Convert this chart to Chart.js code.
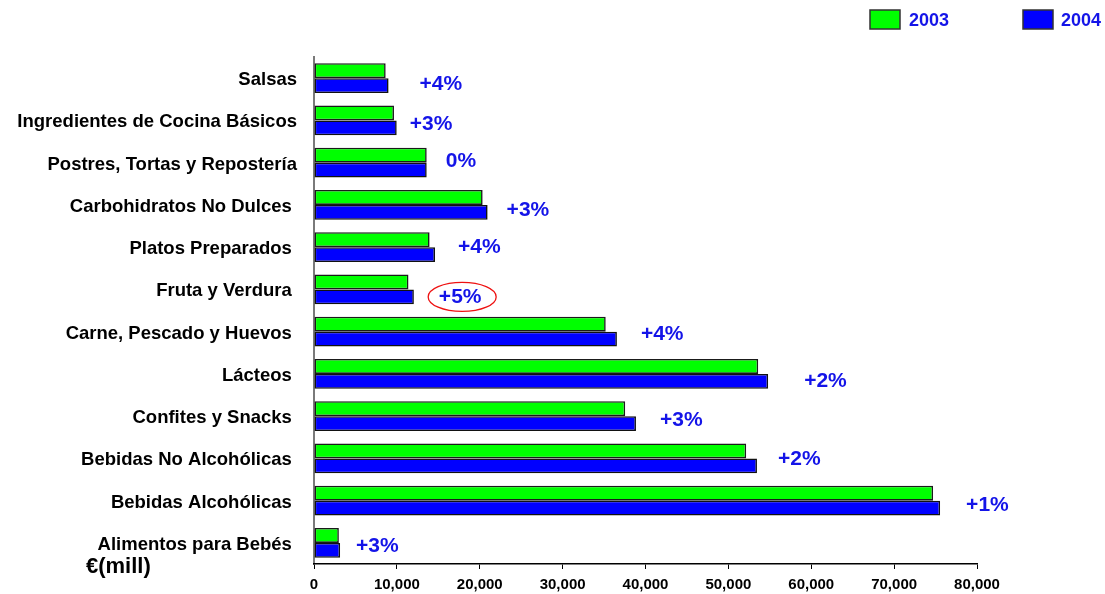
<!DOCTYPE html>
<html>
<head>
<meta charset="utf-8">
<script src="https://cdn.jsdelivr.net/npm/chart.js@4/dist/chart.umd.min.js"></script>
<style>
html,body{margin:0;padding:0;background:#fff;}
canvas{display:block;}
</style>
</head>
<body>
<canvas id="c" width="1105" height="594" style="width:1105px;height:594px"></canvas>
<script>
// ---- data ----
const categories = [
  "Salsas",
  "Ingredientes de Cocina Básicos",
  "Postres, Tortas y Repostería",
  "Carbohidratos No Dulces ",
  "Platos Preparados ",
  "Fruta y Verdura ",
  "Carne, Pescado y Huevos ",
  "Lácteos ",
  "Confites y Snacks ",
  "Bebidas No Alcohólicas ",
  "Bebidas Alcohólicas ",
  "Alimentos para Bebés "
];
const values2003 = [8650, 9650, 13600, 20350, 13950, 11400, 35200, 53600, 37550, 52150, 74700, 3000];
const values2004 = [9000, 9980, 13600, 20950, 14600, 12050, 36550, 54800, 38850, 53450, 75550, 3150];
const growthLabels = ["+4%", "+3%", "0%", "+3%", "+4%", "+5%", "+4%", "+2%", "+3%", "+2%", "+1%", "+3%"];
const highlighted = [5];
const xTicks = [0, 10000, 20000, 30000, 40000, 50000, 60000, 70000, 80000];
const seriesNames = ["2003", "2004"];
const unitLabel = "€(mill)";

// ---- layout for annotations (pixels) ----
const labelGapPx = [31, 13, 19, 19, 23, 25, 24, 36, 24, 21, 26, 16];
const labelDyPx  = [6.5, 3.5, -1, 5, 0.5, 7.5, 3, 7, 4, 0.6, 4.5, 3];

const FONT = "'Liberation Sans', Arial, Helvetica, sans-serif";
Chart.defaults.font.family = FONT;

const annotations = {
  id: 'annotations',
  afterDraw(chart) {
    const ctx = chart.ctx;
    const meta = chart.getDatasetMeta(1);
    const ys = chart.scales.y;
    ctx.save();
    ctx.font = "bold 21px " + FONT;
    ctx.textBaseline = 'middle';
    ctx.textAlign = 'left';
    growthLabels.forEach((t, i) => {
      const bar = meta.data[i];
      const x = bar.x + labelGapPx[i];
      const y = ys.getPixelForValue(i) + labelDyPx[i];
      ctx.fillStyle = '#1414e8';
      ctx.fillText(t, x, y);
      if (highlighted.includes(i)) {
        const w = ctx.measureText(t).width;
        ctx.beginPath();
        ctx.ellipse(x + w / 2 + 2, y, 34, 14.5, 0, 0, Math.PI * 2);
        ctx.strokeStyle = '#ee1111';
        ctx.lineWidth = 1.3;
        ctx.stroke();
      }
    });
    // unit label
    ctx.fillStyle = '#000';
    ctx.font = "bold 22px " + FONT;
    ctx.textBaseline = 'alphabetic';
    ctx.fillText(unitLabel, 86, 573);
    // legend
    const items = [
      {box: 870, text: 909, color: chart.data.datasets[0].backgroundColor, name: seriesNames[0]},
      {box: 1023, text: 1061, color: chart.data.datasets[1].backgroundColor, name: seriesNames[1]}
    ];
    ctx.font = "bold 18px " + FONT;
    ctx.textBaseline = 'middle';
    items.forEach(it => {
      ctx.fillStyle = it.color;
      ctx.fillRect(it.box, 10, 30, 19);
      ctx.strokeStyle = '#333';
      ctx.lineWidth = 1.5;
      ctx.strokeRect(it.box, 10, 30, 19);
      ctx.fillStyle = '#1414e8';
      ctx.fillText(it.name, it.text, 21);
    });
    ctx.restore();
  }
};

new Chart(document.getElementById('c'), {
  type: 'bar',
  data: {
    labels: categories,
    datasets: [
      {label: seriesNames[0], data: values2003, backgroundColor: '#00ff00', borderColor: '#1a1a1a', borderWidth: 1.6, borderSkipped: false, categoryPercentage: 0.71, barPercentage: 1},
      {label: seriesNames[1], data: values2004, backgroundColor: '#0000ff', borderColor: '#111', borderWidth: 1.6, borderSkipped: false, categoryPercentage: 0.71, barPercentage: 1}
    ]
  },
  options: {
    indexAxis: 'y',
    responsive: false,
    animation: false,
    layout: {padding: {top: 57, right: 128, left: 0, bottom: 0}},
    plugins: {legend: {display: false}, tooltip: {enabled: false}},
    scales: {
      y: {
        grid: {display: false, drawTicks: false},
        border: {display: true, color: '#7a7a7a', width: 2},
        ticks: {font: {size: 18.5, weight: 'bold'}, color: '#000', padding: 17, autoSkip: false, labelOffset: 2},
        afterFit(s) { s.width = 314; }
      },
      x: {
        min: xTicks[0], max: xTicks[xTicks.length - 1],
        afterBuildTicks(s) { s.ticks = xTicks.map(v => ({value: v})); },
        grid: {display: true, drawOnChartArea: false, drawTicks: true, tickLength: 5, color: '#000', lineWidth: 1},
        border: {display: true, color: '#000', width: 1.5},
        ticks: {font: {size: 15, weight: 'bold'}, color: '#000', padding: 7, maxRotation: 0,
          callback: v => Number(v).toLocaleString('en-US')},
        afterFit(s) { s.height = 30; }
      }
    }
  },
  plugins: [annotations]
});
</script>
</body>
</html>
